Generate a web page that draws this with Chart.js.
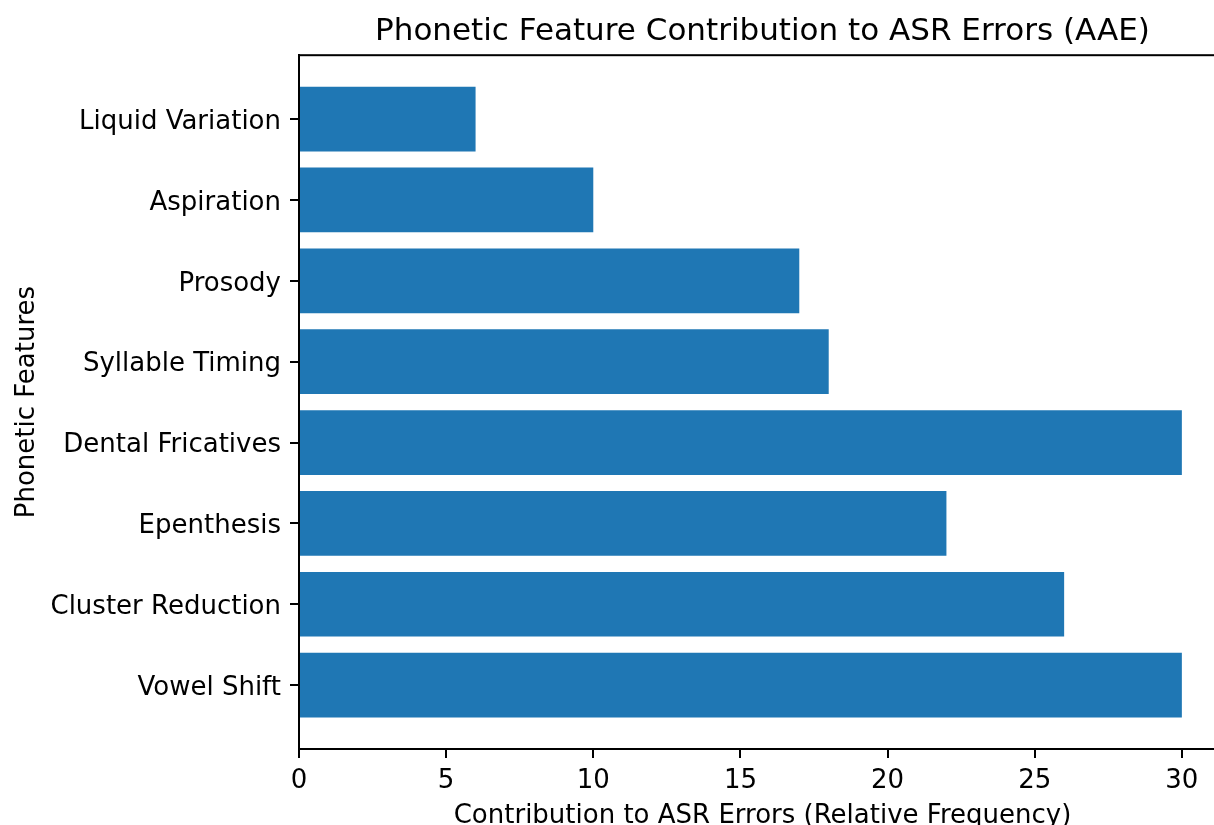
<!DOCTYPE html>
<html>
<head>
<meta charset="utf-8">
<title>Phonetic Feature Contribution to ASR Errors (AAE)</title>
<script src="https://cdn.jsdelivr.net/npm/chart.js@4.4.1/dist/chart.umd.min.js"></script>
<style>
  html, body { margin: 0; padding: 0; background: #fff; overflow: hidden; }
  #wrap { width: 1214px; height: 825px; overflow: hidden; }
</style>
</head>
<body>
<div id="wrap"><canvas id="chart" width="1240" height="840"></canvas></div>
<script>
// data, bottom to top like matplotlib barh
const features = ['Vowel Shift', 'Cluster Reduction', 'Epenthesis', 'Dental Fricatives',
  'Syllable Timing', 'Prosody', 'Aspiration', 'Liquid Variation'];
const contributions = [30, 26, 22, 30, 18, 17, 10, 6];
const xTicks = [0, 5, 10, 15, 20, 25, 30];

const FONT = 'DejaVu Sans';
const barColor = '#1f77b4';

// matplotlib style limits (5% margins)
const xMax = Math.max(...contributions) * 1.05;
const yPad = 0.4 + 0.05 * (features.length - 1 + 0.8);

const points = features.map((f, i) => ({ x: contributions[i], y: i }));

// draws the box around the plot (top spine etc)
const framePlugin = {
  id: 'frame',
  afterDraw(chart) {
    const { ctx, chartArea: a } = chart;
    ctx.save();
    ctx.strokeStyle = '#000';
    ctx.lineWidth = 2;
    ctx.strokeRect(a.left, a.top, a.right - a.left, a.bottom - a.top);
    ctx.restore();
  }
};

const ctx = document.getElementById('chart').getContext('2d');
const chart = new Chart(ctx, {
  type: 'bar',
  data: {
    datasets: [{
      data: points,
      backgroundColor: barColor,
      borderWidth: 0,
      categoryPercentage: 1,
      barPercentage: 0.8
    }]
  },
  options: {
    indexAxis: 'y',
    responsive: false,
    animation: false,
    devicePixelRatio: 1,
    layout: { padding: { left: 0, right: 14, top: 0, bottom: 0 } },
    plugins: {
      legend: { display: false },
      tooltip: { enabled: false },
      title: {
        display: true,
        fullSize: false,
        text: 'Phonetic Feature Contribution to ASR Errors (AAE)',
        color: '#000',
        font: { family: FONT, size: 31, weight: 'normal' },
        padding: { top: 13, bottom: 5 }
      }
    },
    scales: {
      x: {
        type: 'linear',
        min: 0,
        max: xMax,
        afterBuildTicks: s => { s.ticks = xTicks.map(v => ({ value: v })); },
        afterFit: s => { s.height = 91; },
        grid: { drawOnChartArea: false, drawTicks: true, tickLength: 9, color: '#000', lineWidth: 2 },
        border: { display: true, color: '#000', width: 2 },
        ticks: { color: '#000', padding: 8, font: { family: FONT, size: 26 } },
        title: {
          display: true,
          text: 'Contribution to ASR Errors (Relative Frequency)',
          color: '#000',
          font: { family: FONT, size: 26 },
          padding: { top: 0, bottom: 8 }
        }
      },
      y: {
        type: 'linear',
        offset: false,
        min: -yPad,
        max: features.length - 1 + yPad,
        afterBuildTicks: s => { s.ticks = features.map((f, i) => ({ value: i })); },
        afterFit: s => { s.width = 299; },
        grid: { offset: false, drawOnChartArea: false, drawTicks: true, tickLength: 9, color: '#000', lineWidth: 2 },
        border: { display: true, color: '#000', width: 2 },
        ticks: {
          color: '#000',
          padding: 9,
          labelOffset: 3,
          autoSkip: false,
          font: { family: FONT, size: 26 },
          callback: v => features[v]
        },
        title: {
          display: true,
          text: 'Phonetic Features',
          color: '#000',
          font: { family: FONT, size: 26 },
          padding: { top: 12, bottom: 0 }
        }
      }
    }
  },
  plugins: [framePlugin]
});
</script>
</body>
</html>
